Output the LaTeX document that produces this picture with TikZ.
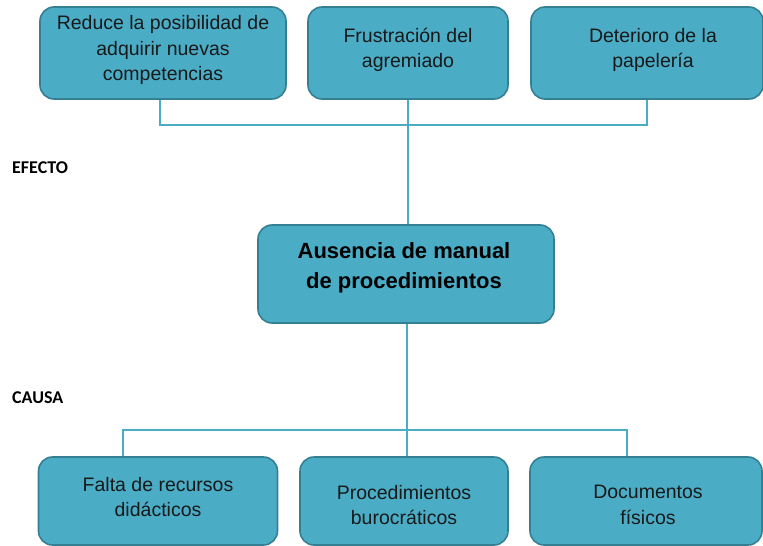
\documentclass[tikz,border=0pt]{standalone}
\usepackage{fontspec}
\setmainfont{Liberation Sans}
\newfontfamily\lblfont{Carlito}
\definecolor{boxfill}{HTML}{4BACC6}
\definecolor{boxline}{HTML}{357F93}
\definecolor{conn}{HTML}{4BACC6}
\begin{document}
\begin{tikzpicture}[x=1pt,y=-1pt,
  box/.style={draw=boxline, line width=1.6pt, fill=boxfill, rounded corners=14pt,
    align=center, inner sep=0pt},
  txt/.style={align=center, text=black!90, font=\fontsize{19.5}{25.5}\selectfont},
  mtxt/.style={align=center, text=black, font=\bfseries\fontsize{22}{30}\selectfont},
  conline/.style={draw=conn, line width=2.6pt},
  lbl/.style={font=\lblfont\bfseries\fontsize{18}{20}\selectfont, anchor=west, inner sep=0pt}]
\useasboundingbox (0,0) rectangle (763,546);
% top boxes
\node[box, minimum width=246pt, minimum height=92pt] (t1) at (163,53) {};
\node[txt] (t1t) at (163,50) {Reduce la posibilidad de\\adquirir nuevas\\competencias};
\node[box, minimum width=200pt, minimum height=92pt] (t2) at (408,53) {};
\node[txt] (t2t) at (408,50) {Frustración del\\agremiado};
\node[box, minimum width=232pt, minimum height=92pt] (t3) at (647,53) {};
\node[txt] (t3t) at (653,50) {Deterioro de la\\papelería};
% middle
\node[box, minimum width=296pt, minimum height=98pt] (m) at (406,274) {};
\node[mtxt] (mt) at (404,268) {Ausencia de manual\\de procedimientos};
% bottom boxes
\node[box, minimum width=239pt, minimum height=88pt] (b1) at (158,501) {};
\node[txt] (b1t) at (158,497) {Falta de recursos\\didácticos};
\node[box, minimum width=208pt, minimum height=88pt] (b2) at (404,501) {};
\node[txt] (b2t) at (404,505) {Procedimientos\\burocráticos};
\node[box, minimum width=232pt, minimum height=88pt] (b3) at (646,501) {};
\node[txt] (b3t) at (648,505) {Documentos\\físicos};
% labels
\node[lbl] (efecto) at (12,168) {EFECTO};
\node[lbl] (causa) at (12,398) {CAUSA};
% connectors
\coordinate (tj) at (160,125);
\draw[conline] ([xshift=-3pt]t1.south) |- (tj) -| (t3.south);
\draw[conline] (t2.south) -- (t2.south |- m.north);
\coordinate (bj) at (123,430);
\draw[conline] ([xshift=-35pt]b1.north) |- (bj) -| ([xshift=-19pt]b3.north);
\draw[conline] ([xshift=1pt]m.south) -- ([xshift=3pt]b2.north);
\end{tikzpicture}
\end{document}
